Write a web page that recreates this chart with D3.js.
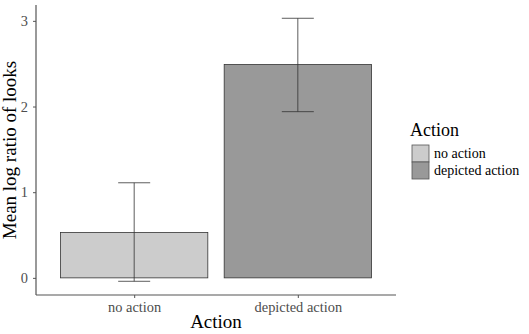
<!DOCTYPE html>
<html>
<head>
<meta charset="utf-8">
<script src="https://cdn.jsdelivr.net/npm/d3@7"></script>
<style>
  body { margin: 0; background: #fff; }
  text { font-family: "Liberation Serif", "Times New Roman", serif; }
</style>
</head>
<body>
<div id="chart"></div>
<script>
// Datos
var categories = ["no action", "depicted action"];
var means = [0.53, 2.49];
var lowerCI = [-0.04, 1.94];
var upperCI = [1.11, 3.03];
var fills = ["#cccccc", "#999999"];
var yTicks = [0, 1, 2, 3];

var W = 529, H = 334;
var margin = {top: 5, right: 133, bottom: 39, left: 36};
var width = W - margin.left - margin.right;
var height = H - margin.top - margin.bottom;

var svg = d3.select("#chart")
    .append("svg")
        .attr("width", W)
        .attr("height", H)
    .append("g")
        .attr("transform", "translate(" + margin.left + "," + margin.top + ")");

// escala discreta estilo ggplot: expansión de 0.6 a cada lado
var x = d3.scaleLinear().domain([0.4, 2.6]).range([0, width]);
var y = d3.scaleLinear().domain([-0.2, 3.185]).range([height, 0]);

var barW = x(1.9) - x(1); // ancho 0.9
var capW = 32;

// barras
svg.selectAll("rect.bar")
    .data(categories)
    .enter().append("rect")
        .attr("class", "bar")
        .attr("x", (d, i) => x(i + 1) - barW / 2)
        .attr("width", barW)
        .attr("y", (d, i) => y(means[i]))
        .attr("height", (d, i) => y(0) - y(means[i]))
        .attr("fill", (d, i) => fills[i])
        .attr("stroke", "#333")
        .attr("stroke-width", 0.8);

// barras de error
var eb = svg.selectAll("g.err")
    .data(categories)
    .enter().append("g")
        .attr("class", "err")
        .attr("stroke", "#333")
        .attr("stroke-width", 0.8);
eb.append("line")
    .attr("x1", (d, i) => x(i + 1)).attr("x2", (d, i) => x(i + 1))
    .attr("y1", (d, i) => y(lowerCI[i])).attr("y2", (d, i) => y(upperCI[i]));
eb.append("line")
    .attr("x1", (d, i) => x(i + 1) - capW / 2).attr("x2", (d, i) => x(i + 1) + capW / 2)
    .attr("y1", (d, i) => y(upperCI[i])).attr("y2", (d, i) => y(upperCI[i]));
eb.append("line")
    .attr("x1", (d, i) => x(i + 1) - capW / 2).attr("x2", (d, i) => x(i + 1) + capW / 2)
    .attr("y1", (d, i) => y(lowerCI[i])).attr("y2", (d, i) => y(lowerCI[i]));

// ejes
var yAxis = svg.append("g")
    .call(d3.axisLeft(y).tickValues(yTicks).tickSize(3).tickPadding(5).tickFormat(d3.format("d")));
var xAxis = svg.append("g")
    .attr("transform", "translate(0," + height + ")")
    .call(d3.axisBottom(x).tickValues([1, 2]).tickSize(3).tickPadding(4)
        .tickFormat((d, i) => categories[i]));

[yAxis, xAxis].forEach(function(a) {
    a.select(".domain").attr("stroke", "#555").attr("stroke-width", 1.2);
    a.selectAll(".tick line").attr("stroke", "#555");
    a.selectAll(".tick text").attr("fill", "#4d4d4d")
        .style("font-family", "'Liberation Serif', serif").style("font-size", "14.4px");
});
yAxis.select(".domain").attr("d", "M0," + height + "V0");
xAxis.select(".domain").attr("d", "M0,0H" + width);

// títulos de ejes
svg.append("text")
    .attr("x", width / 2)
    .attr("y", height + 33)
    .attr("text-anchor", "middle")
    .style("font-size", "19px")
    .text("Action");

svg.append("text")
    .attr("transform", "translate(-20," + (height / 2) + ") rotate(-90)")
    .attr("text-anchor", "middle")
    .style("font-size", "19px")
    .text("Mean log ratio of looks");

// leyenda
var legend = svg.append("g")
    .attr("transform", "translate(" + (412 - margin.left) + "," + (145 - margin.top) + ")");
legend.append("text")
    .attr("x", -2).attr("y", -9)
    .style("font-size", "18px")
    .text("Action");
var items = legend.selectAll("g.item")
    .data(categories)
    .enter().append("g")
        .attr("class", "item")
        .attr("transform", (d, i) => "translate(0," + (i * 17) + ")");
items.append("rect")
    .attr("width", 17).attr("height", 17)
    .attr("fill", (d, i) => fills[i])
    .attr("stroke", "#555")
    .attr("stroke-width", 0.8);
items.append("text")
    .attr("x", 22).attr("y", 13)
    .style("font-size", "14px")
    .text(d => d);
</script>
</body>
</html>
